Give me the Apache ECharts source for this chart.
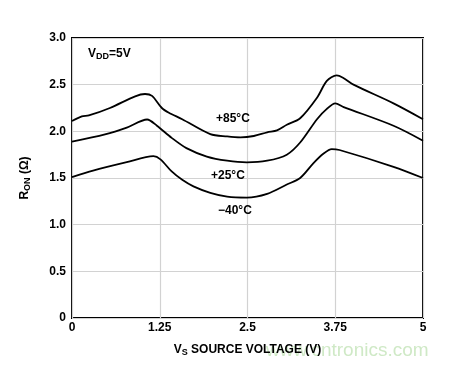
<!DOCTYPE html>
<html>
<head>
<meta charset="utf-8">
<script src="https://cdn.jsdelivr.net/npm/echarts@6/dist/echarts.min.js"></script>
<style>
  html, body { margin: 0; padding: 0; background: #fff; }
  #chart { width: 450px; height: 366px; }
</style>
</head>
<body>
<div id="chart"></div>
<script>
// RON vs VS
var vs85 = [0, 0.14, 0.24, 0.54, 0.90, 1.04, 1.14, 1.28, 1.38, 1.57, 1.97, 2.21, 2.40, 2.59, 2.78, 2.92, 3.06, 3.25, 3.49, 3.63, 3.77, 3.86, 4.01, 4.58, 5.0];
var ron85 = [2.11, 2.16, 2.17, 2.25, 2.375, 2.40, 2.38, 2.25, 2.20, 2.13, 1.97, 1.945, 1.935, 1.95, 1.99, 2.01, 2.07, 2.14, 2.36, 2.54, 2.60, 2.575, 2.50, 2.30, 2.13];

var vs25 = [0, 0.47, 0.78, 1.07, 1.21, 1.42, 1.63, 1.92, 2.21, 2.49, 2.78, 3.06, 3.25, 3.49, 3.63, 3.75, 3.87, 4.58, 5.0];
var ron25 = [1.89, 1.967, 2.04, 2.127, 2.06, 1.93, 1.82, 1.73, 1.685, 1.667, 1.685, 1.75, 1.88, 2.13, 2.24, 2.30, 2.26, 2.06, 1.90];

var vsM40 = [0, 0.30, 0.78, 1.16, 1.26, 1.42, 1.57, 1.73, 1.97, 2.21, 2.49, 2.78, 3.06, 3.25, 3.44, 3.58, 3.70, 3.81, 4.58, 5.0];
var ronM40 = [1.51, 1.58, 1.67, 1.734, 1.70, 1.57, 1.48, 1.41, 1.34, 1.30, 1.29, 1.33, 1.43, 1.50, 1.66, 1.76, 1.81, 1.80, 1.62, 1.50];

var xTicks = [0, 1.25, 2.5, 3.75, 5];
var yTickLabels = ['0', '0.5', '1.0', '1.5', '2.0', '2.5', '3.0'];

function pairs(xs, ys) {
  var out = [];
  for (var i = 0; i < xs.length; i++) out.push([xs[i], ys[i]]);
  return out;
}

var font = '"Liberation Sans", Arial, sans-serif';
var chart = echarts.init(document.getElementById('chart'));

function curve(name, xs, ys) {
  return {
    name: name,
    type: 'line',
    data: pairs(xs, ys),
    smooth: 0.3,
    showSymbol: false,
    lineStyle: { color: '#000', width: 1.8 },
    silent: true
  };
}

var subRich = {
  a: { fontFamily: font, fontWeight: 'bold', fontSize: 12, color: '#000' },
  s: { fontFamily: font, fontWeight: 'bold', fontSize: 9, color: '#000', padding: [6, 0, 0, 0] }
};

chart.setOption({
  animation: false,
  grid: {
    left: 72, right: 27, top: 38, bottom: 48,
    show: true, borderColor: '#000', borderWidth: 2
  },
  xAxis: {
    type: 'value',
    min: 0, max: 5, interval: 1.25,
    axisLine: { show: false },
    axisTick: { show: false },
    splitLine: { lineStyle: { color: '#d2d2d2', width: 1.2 } },
    axisLabel: {
      color: '#000', fontFamily: font, fontWeight: 'bold', fontSize: 12, margin: 4,
      formatter: function (v) { return xTicks.indexOf(v) >= 0 ? String(v) : ''; }
    },
    name: '{a|V}{s|S}{a| SOURCE VOLTAGE (V)}',
    nameLocation: 'middle',
    nameGap: 24,
    nameTextStyle: { rich: subRich }
  },
  yAxis: {
    type: 'value',
    min: 0, max: 3, interval: 0.5,
    axisLine: { show: false },
    axisTick: { show: false },
    splitLine: { lineStyle: { color: '#d2d2d2', width: 1.2 } },
    axisLabel: {
      color: '#000', fontFamily: font, fontWeight: 'bold', fontSize: 12, margin: 6,
      formatter: function (v) { return yTickLabels[Math.round(v * 2)]; }
    },
    name: '{a|R}{s|ON}{a| (Ω)}',
    nameLocation: 'middle',
    nameRotate: 90,
    nameGap: 40,
    nameTextStyle: { rich: subRich }
  },
  graphic: [
    {
      type: 'text', left: 88, top: 48, z: 100,
      style: {
        text: '{a|V}{s|DD}{a|=5V}',
        rich: {
          a: { fontFamily: font, fontWeight: 'bold', fontSize: 12, fill: '#000' },
          s: { fontFamily: font, fontWeight: 'bold', fontSize: 9, fill: '#000', padding: [6, 0, 0, 0] }
        }
      }
    },
    { type: 'text', left: 216, top: 113, z: 100, style: { text: '+85°C', font: 'bold 12px ' + font, fill: '#000' } },
    { type: 'text', left: 211, top: 170, z: 100, style: { text: '+25°C', font: 'bold 12px ' + font, fill: '#000' } },
    { type: 'text', left: 218, top: 205, z: 100, style: { text: '−40°C', font: 'bold 12px ' + font, fill: '#000' } },
    { type: 'text', left: 266, top: 341, z: -1, style: { text: 'www.cntronics.com', font: '19px ' + font, fill: '#cfe9c6' } }
  ],
  series: [
    curve('+85°C', vs85, ron85),
    curve('+25°C', vs25, ron25),
    curve('-40°C', vsM40, ronM40)
  ]
});
</script>
</body>
</html>
